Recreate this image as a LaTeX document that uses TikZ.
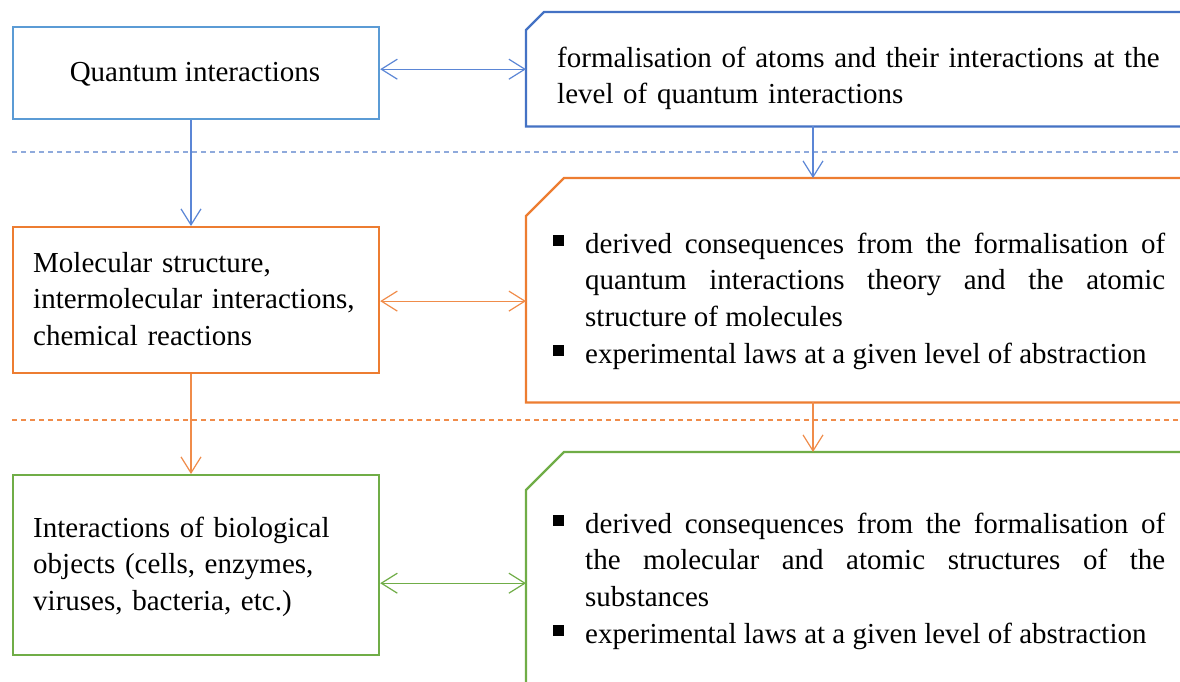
\documentclass[tikz,border=0pt]{standalone}
\usepackage{fontspec}
\setmainfont{Liberation Serif}
\usetikzlibrary{arrows.meta,calc}
\definecolor{cblueL}{HTML}{5B9BD5}
\definecolor{cblue}{HTML}{4472C4}
\definecolor{cblueA}{HTML}{5B86D6}
\definecolor{cblueD}{HTML}{8FAADC}
\definecolor{corange}{HTML}{ED7D31}
\definecolor{corangeA}{HTML}{F08C4A}
\definecolor{cgreen}{HTML}{70AD47}
\newcommand\sqbul{\leavevmode\llap{\raisebox{7.5pt}{\rule{11pt}{11pt}}\hspace{21pt}}}
\begin{document}
\begin{tikzpicture}[x=1pt,y=-1pt,
  lbox/.style={draw, line width=2.2pt, minimum width=366pt, inner sep=0, anchor=north west},
  rbox/.style={draw=none, minimum width=700pt, inner sep=0, anchor=north west},
  cham/.style={line width=2.2pt, line join=miter},
  txt/.style={inner sep=0, anchor=base west, font=\fontsize{29}{36.7}\selectfont},
  arr/.style={line width=1.2pt, -{Straight Barb[length=16pt,width=20pt,line width=1.2pt]}},
  darr/.style={line width=1.2pt, {Straight Barb[length=16pt,width=20pt,line width=1.2pt]}-{Straight Barb[length=16pt,width=20pt,line width=1.2pt]}},
  sep/.style={line width=1.3pt, dash pattern=on 5pt off 4pt}
]
\useasboundingbox (0,0) rectangle (1180,681);
\clip (0,0) rectangle (1180,681);
\fill[white] (0,0) rectangle (1180,681);

% left boxes
\node[lbox, draw=cblueL, minimum height=92pt] (l1) at (12,26) {};
\node[lbox, draw=corange, minimum height=146pt] (l2) at (12,226) {};
\node[lbox, draw=cgreen, minimum height=180pt] (l3) at (12,474) {};

% right boxes (anchors)
\node[rbox, minimum height=114pt] (r1) at (526,12) {};
\node[rbox, minimum height=224pt] (r2) at (526,178) {};
\node[rbox, minimum height=260pt] (r3) at (526,452) {};
\draw[cham, cblue] ($(r1.north west)+(0,18)$) -- ($(r1.north west)+(18,0)$) -- (r1.north east) -- (r1.south east) -- (r1.south west) -- cycle;
\draw[cham, corange] ($(r2.north west)+(0,38)$) -- ($(r2.north west)+(38,0)$) -- (r2.north east) -- (r2.south east) -- (r2.south west) -- cycle;
\draw[cham, cgreen] ($(r3.north west)+(0,38)$) -- ($(r3.north west)+(38,0)$) -- (r3.north east) -- (r3.south east) -- (r3.south west) -- cycle;

% separators
\coordinate (s1a) at (12,152);
\coordinate (s1b) at (1180,152);
\coordinate (s2a) at (12,420);
\coordinate (s2b) at (1180,420);
\draw[sep, cblueD] (s1a) -- (s1b);
\draw[sep, corangeA] (s2a) -- (s2b);

% connectors
\coordinate (cx) at (813,0);
\coordinate (lx) at (191,0);
\draw[darr, cblueA] (r1.west -| l1.east) -- (r1.west);
\draw[darr, corangeA] (l2.east) ++(0,1) coordinate (d2) (d2) -- (d2 -| r2.west);
\draw[darr, cgreen] (r3.west -| l3.east) ++(0,1) coordinate (d3) (d3) -- (d3 -| r3.west);
\draw[arr, cblueA] (l1.south -| lx) -- (l2.north -| lx);
\draw[arr, corangeA] (l2.south -| lx) -- (l3.north -| lx);
\draw[arr, cblueA] (r1.south -| cx) -- (r2.north -| cx);
\draw[arr, corangeA] (r2.south -| cx) -- (r3.north -| cx);

% texts
\node[txt, anchor=base] (t1) at (195,81) {Quantum interactions};
\node[txt, text width=340pt, align=left] (t2) at (33,272) {Molecular structure,\\ intermolecular interactions,\\ chemical reactions};
\node[txt, text width=340pt, align=left] (t3) at (33,537) {Interactions of biological\\ objects (cells, enzymes,\\ viruses, bacteria, etc.)};
\node[txt, text width=620pt, align=left] (u1) at (557,67) {formalisation of atoms and their interactions at the\\ level of quantum interactions};
\node[txt, text width=580pt, align=justify] (u2) at (585,253) {\sqbul derived consequences from the formalisation of\linebreak quantum interactions theory and the atomic\linebreak structure of molecules\par
\sqbul experimental laws at a given level of abstraction};
\node[txt, text width=580pt, align=justify] (u3) at (585,533) {\sqbul derived consequences from the formalisation of\linebreak the molecular and atomic structures of the\linebreak substances\par
\sqbul experimental laws at a given level of abstraction};
\end{tikzpicture}
\end{document}
